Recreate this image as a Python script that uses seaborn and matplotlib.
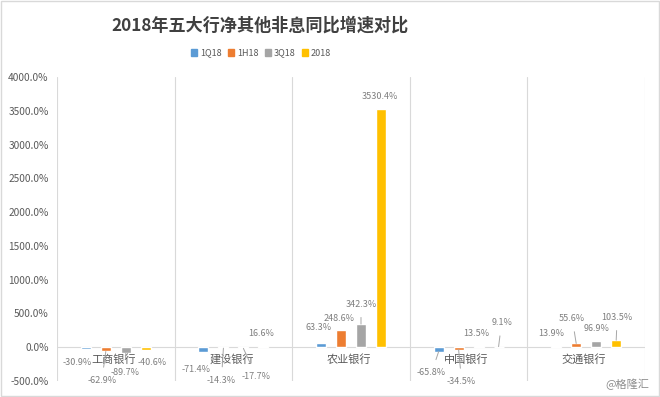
import matplotlib
matplotlib.use("Agg")
import matplotlib.pyplot as plt
import seaborn as sns
import pandas as pd
import numpy as np

banks = ["工商银行", "建设银行", "农业银行", "中国银行", "交通银行"]
periods = ["1Q18", "1H18", "3Q18", "2018"]
v_1q18 = [-30.9, -71.4, 63.3, -65.8, 13.9]
v_1h18 = [-62.9, -14.3, 248.6, -34.5, 55.6]
v_3q18 = [-89.7, -17.7, 342.3, 13.5, 96.9]
v_2018 = [-40.6, 16.6, 3530.4, 9.1, 103.5]
yticks = [-500, 0, 500, 1000, 1500, 2000, 2500, 3000, 3500, 4000]
title = "2018年五大行净其他非息同比增速对比"
watermark = "@格隆汇"

colors = ["#5B9BD5", "#ED7D31", "#A5A5A5", "#FFC000"]

# label offsets in pixels (dx, dy) per series per bank -- layout only
label_offsets = [
    [(-9, -13), (-7, -17), (-2, 15), (-7, -21), (-5, 13)],
    [(-4, -29), (-2, -32), (-2, 12), (3, -32), (-4, 25)],
    [(-1, -19), (13, -28), (0, 20), (-2, 13), (0, 12.5)],
    [(6, -13), (-2, 13), (-1, 12), (3, 24), (1, 23)],
]

series = [v_1q18, v_1h18, v_3q18, v_2018]
rows = []
for p, vals in zip(periods, series):
    for b, v in zip(banks, vals):
        rows.append({"bank": b, "period": p, "value": v})
df = pd.DataFrame(rows)

sns.set_theme(style="white")
plt.rcParams["font.family"] = ["Noto Sans CJK SC", "DejaVu Sans"]

fig = plt.figure(figsize=(6.6, 3.97), dpi=100)
ax = fig.add_axes([57 / 660, 1 - 381 / 397, 588 / 660, 304 / 397])

sns.barplot(data=df, x="bank", y="value", hue="period", order=banks,
            hue_order=periods, palette=colors, width=0.68, gap=0.5,
            ax=ax, legend=False, saturation=1)

ax.set_xlim(-0.5, 4.5)
ax.set_ylim(-500, 4000)
ax.set_yticks(yticks)
ax.set_yticklabels([f"{t:.1f}%" for t in yticks], fontsize=7.3, color="#595959")
ax.tick_params(axis="y", length=0, pad=6)
ax.set_xticks([])
ax.set_xlabel("")
ax.set_ylabel("")
for s in ax.spines.values():
    s.set_visible(False)

# category separators
for xb in np.arange(-0.5, 5.0, 1.0):
    ax.axvline(xb, color="#D9D9D9", lw=0.8, zorder=0)
ax.axhline(0, color="#D9D9D9", lw=0.8, zorder=0.5)

# category labels just under the zero line
for i, b in enumerate(banks):
    ax.annotate(b, xy=(i, 0), xytext=(-2, -12), textcoords="offset pixels",
                ha="center", va="center", fontsize=8, color="#595959")

# data labels
for si, cont in enumerate(ax.containers):
    for bi, bar in enumerate(cont):
        v = series[si][bi]
        x = bar.get_x() + bar.get_width() / 2
        dx, dy = label_offsets[si][bi]
        far = abs(dy) > 17
        arrow = dict(arrowstyle="-", color="#A6A6A6", lw=0.7,
                     shrinkA=4, shrinkB=0) if far else None
        ax.annotate(f"{v:.1f}%", xy=(x, v), xytext=(dx, dy),
                    textcoords="offset pixels", ha="center", va="center",
                    fontsize=6.5, color="#7F7F7F", arrowprops=arrow)

# title and legend
fig.text(260 / 660, 1 - 26 / 397, title, ha="center", va="center",
         fontsize=12.3, fontweight="bold", color="#404040")
handles = [plt.Rectangle((0, 0), 1, 1, color=c) for c in colors]
fig.legend(handles, periods, loc="center", bbox_to_anchor=(261 / 660, 1 - 53 / 397),
           ncol=4, frameon=False, fontsize=6.5, handlelength=0.7, handleheight=0.7,
           handletextpad=0.3, columnspacing=0.7, labelcolor="#595959")

fig.text(627 / 660, 1 - 384 / 397, watermark, ha="center", va="center",
         fontsize=8, color="#8C8C8C")

# figure border
fig.patches.append(plt.Rectangle((0.002, 0.003), 0.996, 0.994, transform=fig.transFigure,
                                 fill=False, edgecolor="#D9D9D9", lw=1))

fig.savefig("out.png", dpi=100)
